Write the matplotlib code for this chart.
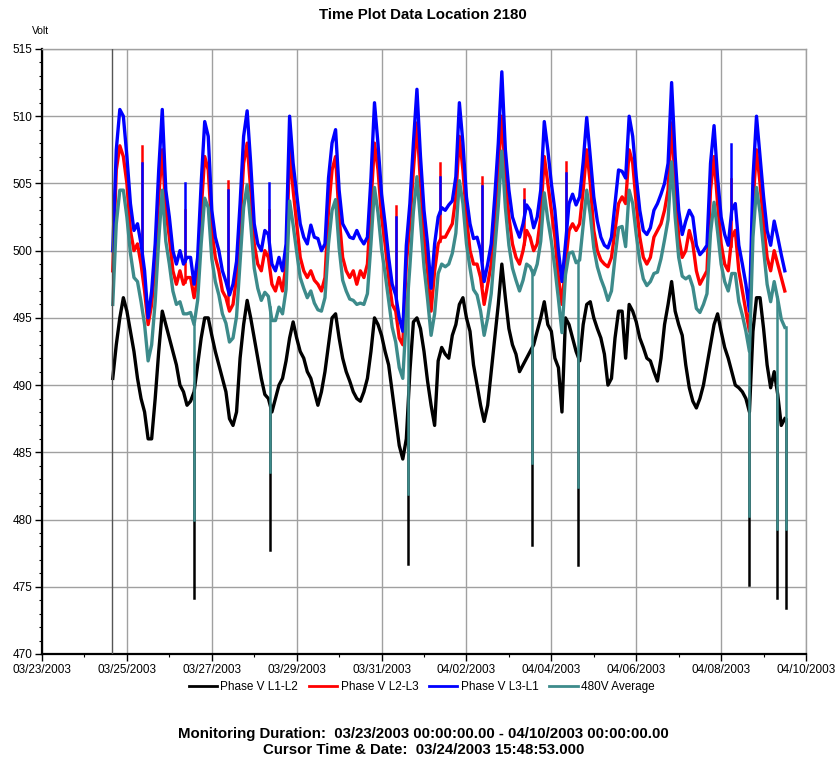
import numpy as np
import matplotlib
matplotlib.use("Agg")
import matplotlib.pyplot as plt
import matplotlib.dates as mdates
from datetime import datetime

plt.rcParams['font.family'] = ['Liberation Sans', 'DejaVu Sans']

# monitoring window and sampling (2 hour steps, hours counted from 03/23 00:00)
mon_start = datetime(2003, 3, 23)
mon_end = datetime(2003, 4, 10)
first_hour = 40
last_hour = 420
step_h = 2
cursor_time = datetime(2003, 3, 24, 15, 48, 53)

# Phase V L3-L1 (blue), one row per day
v_l3_l1 = [
    500.0, 507.5, 510.5, 510.0,
    507.0, 503.5, 501.5, 502.0, 500.5, 498.5, 495.0, 497.0, 500.5, 506.0, 510.5, 504.5,
    502.5, 500.0, 499.0, 500.0, 499.0, 499.5, 499.5, 497.5, 499.5, 505.0, 509.6, 508.5,
    503.0, 501.0, 500.0, 498.5, 497.7, 496.7, 497.5, 499.2, 503.5, 508.5, 510.4, 506.5,
    502.0, 500.5, 500.0, 501.5, 501.2, 499.0, 498.5, 499.5, 498.5, 500.5, 510.0, 506.5,
    504.2, 502.0, 501.0, 500.5, 501.9, 501.0, 500.9, 500.0, 500.5, 505.4, 508.0, 509.0,
    504.5, 502.0, 501.5, 501.0, 500.9, 501.5, 500.9, 500.5, 501.0, 505.4, 511.0, 507.9,
    504.2, 502.0, 499.5, 497.5, 496.7, 495.0, 494.0, 500.4, 503.5, 508.0, 512.0, 507.0,
    503.0, 500.5, 497.2, 500.5, 502.5, 503.2, 503.0, 503.4, 503.7, 505.5, 511.0, 508.0,
    504.0, 502.0, 500.9, 501.0, 500.0, 497.7, 499.0, 500.5, 504.0, 508.0, 513.3, 507.5,
    504.5, 502.5, 501.7, 501.0, 502.0, 503.4, 503.0, 501.7, 502.5, 504.5, 509.6, 507.5,
    505.0, 503.0, 500.0, 497.7, 500.5, 503.5, 504.2, 503.4, 504.0, 506.6, 509.9, 507.0,
    504.0, 502.2, 501.0, 500.4, 500.2, 501.0, 503.5, 506.0, 505.9, 505.4, 510.0, 508.5,
    505.5, 503.0, 501.5, 501.2, 501.7, 503.0, 503.5, 504.2, 505.0, 506.5, 512.5, 507.0,
    503.0, 501.2, 502.2, 503.0, 502.5, 500.4, 499.7, 500.0, 500.4, 506.5, 509.3, 505.4,
    502.5, 501.2, 500.4, 503.0, 503.5, 500.4, 499.0, 497.5, 495.5, 505.4, 510.0, 507.0,
    504.0, 501.5, 500.4, 502.2, 501.0, 499.7, 498.5,
]

# Phase V L2-L3 (red)
v_l2_l3 = [
    498.5, 506.0, 507.8, 507.0,
    505.0, 501.5, 500.0, 500.5, 499.0, 497.0, 494.5, 496.0, 499.0, 504.0, 507.5, 503.0,
    501.0, 498.5, 497.5, 498.5, 497.5, 498.0, 498.0, 496.5, 498.0, 503.0, 507.0, 506.0,
    501.5, 499.5, 498.5, 497.0, 496.5, 495.5, 496.0, 498.0, 502.0, 506.5, 508.0, 504.5,
    500.5, 499.0, 498.5, 500.0, 499.5, 497.5, 497.0, 498.0, 497.0, 499.0, 507.5, 504.5,
    502.0, 499.5, 498.5, 498.0, 498.5, 497.8, 497.5, 497.0, 498.0, 503.0, 506.0, 507.0,
    502.5, 499.5, 498.5, 498.0, 498.5, 497.5, 498.5, 498.0, 499.0, 503.5, 508.0, 506.0,
    502.5, 500.5, 498.0, 496.0, 495.5, 493.5, 493.0, 499.0, 502.0, 506.0, 509.5, 505.0,
    501.0, 498.5, 495.5, 498.5, 500.5, 501.0, 501.0, 501.5, 502.0, 504.0, 508.5, 506.0,
    502.5, 500.0, 499.0, 499.0, 498.0, 496.0, 497.5, 499.0, 502.5, 506.0, 510.0, 505.5,
    502.5, 500.5, 499.5, 499.0, 500.0, 501.5, 501.0, 500.0, 500.5, 502.5, 507.0, 505.0,
    503.0, 501.0, 498.0, 496.0, 499.0, 501.5, 502.0, 501.5, 502.0, 504.5, 507.5, 505.0,
    501.5, 500.0, 499.3, 499.0, 498.8, 499.5, 501.5, 503.5, 504.0, 503.5, 507.5, 506.5,
    503.5, 501.0, 499.5, 499.0, 499.5, 501.0, 501.5, 502.0, 503.0, 504.5, 509.5, 505.0,
    501.0, 499.5, 500.0, 501.5, 500.5, 498.5, 497.5, 498.0, 498.5, 504.5, 507.0, 503.5,
    500.5, 499.0, 498.5, 501.0, 501.5, 498.5, 497.0, 495.5, 494.0, 503.5, 507.5, 505.0,
    502.0, 499.5, 498.5, 500.0, 499.0, 498.0, 497.0,
]

# Phase V L1-L2 (black)
v_l1_l2 = [
    490.5, 493.0, 495.0, 496.5,
    495.5, 494.0, 492.5, 490.5, 489.0, 488.0, 486.0, 486.0, 489.0, 492.5, 495.5, 494.5,
    493.5, 492.5, 491.5, 490.0, 489.5, 488.5, 488.8, 489.5, 491.5, 493.5, 495.0, 495.0,
    493.7, 492.5, 491.5, 490.5, 489.5, 487.5, 487.0, 488.0, 492.0, 494.5, 496.3, 495.0,
    493.5, 492.0, 490.5, 489.3, 489.0, 488.0, 489.0, 490.0, 490.5, 491.8, 493.5, 494.7,
    493.5, 492.5, 492.0, 491.0, 490.5, 489.5, 488.5, 489.5, 491.0, 493.0, 495.0, 495.3,
    493.5, 492.0, 491.0, 490.3, 489.5, 489.0, 488.8, 489.5, 490.5, 492.5, 495.0, 494.5,
    493.7, 492.5, 491.5, 489.5, 487.5, 485.5, 484.5, 486.0, 491.0, 494.7, 495.0, 494.2,
    492.5, 490.3, 488.5, 487.0, 491.8, 492.8, 492.3, 492.0, 493.7, 494.5, 496.0, 496.5,
    495.0, 494.0, 491.5, 490.0, 488.5, 487.3, 488.5, 491.0, 493.5, 496.0, 499.0, 496.5,
    494.2, 493.0, 492.3, 491.0, 491.5, 492.0, 492.5, 493.0, 494.0, 495.0, 496.2, 494.5,
    494.0, 492.0, 491.3, 488.0, 495.0, 494.5, 493.5, 492.5, 491.8, 494.5, 496.0, 496.2,
    495.0, 494.2, 493.5, 492.3, 490.0, 490.5, 493.5, 495.5, 495.5, 492.0, 496.0, 495.5,
    494.7, 493.5, 492.8, 492.0, 491.8, 491.0, 490.3, 492.0, 494.5, 496.0, 497.7, 495.5,
    494.5, 493.7, 491.5, 489.8, 488.8, 488.3, 489.0, 490.0, 491.5, 493.0, 494.5, 495.3,
    494.0, 492.8, 492.0, 491.0, 490.0, 489.8, 489.5, 489.0, 488.0, 494.0, 496.5, 496.5,
    494.2, 491.5, 489.8, 491.0, 489.3, 487.0, 487.5,
]

# 480V Average (teal)
v_avg = [
    496.0, 502.0, 504.5, 504.5,
    502.5, 499.8, 498.0, 497.7, 496.2, 494.5, 491.8, 493.0, 496.2, 500.8, 504.5, 500.7,
    499.0, 497.0, 496.0, 496.2, 495.3, 495.3, 495.4, 494.5, 496.3, 500.5, 503.9, 503.2,
    499.4, 497.7, 496.7, 495.3, 494.6, 493.2, 493.5, 495.1, 499.2, 503.2, 504.9, 502.0,
    498.7, 497.2, 496.3, 496.9, 496.6, 494.8, 494.8, 495.8, 495.3, 497.1, 503.7, 501.9,
    499.9, 498.0, 497.2, 496.5, 497.0, 496.1, 495.6, 495.5, 496.5, 500.5, 503.0, 503.8,
    500.2, 497.8, 497.0, 496.4, 496.3, 496.0, 496.1, 496.0, 496.8, 500.5, 504.7, 502.8,
    500.1, 498.3, 496.3, 494.3, 493.2, 491.3, 490.5, 495.1, 498.8, 502.9, 505.5, 502.1,
    498.8, 496.4, 493.7, 495.3, 498.3, 499.0, 498.8, 499.0, 499.8, 501.3, 505.2, 503.5,
    500.5, 498.7, 497.1, 496.7, 495.5, 493.7, 495.0, 496.8, 500.0, 503.3, 507.4, 503.2,
    500.4, 498.7, 497.8, 497.0, 497.8, 499.0, 498.8, 498.2, 499.0, 500.7, 504.3, 502.3,
    500.7, 498.7, 496.4, 493.9, 498.2, 499.8, 499.9, 499.1, 499.3, 501.9, 504.5, 502.7,
    500.2, 498.8, 497.9, 497.2, 496.3, 497.0, 499.5, 501.7, 501.8, 500.3, 504.5, 503.5,
    501.2, 499.2, 497.9, 497.4, 497.7, 498.3, 498.4, 499.4, 500.8, 502.3, 506.6, 502.5,
    499.5, 498.1, 497.9, 498.1, 497.3, 495.7, 495.4, 496.0, 496.8, 501.3, 503.6, 501.4,
    499.0, 497.7, 497.0, 498.3, 498.3, 496.2, 495.2, 494.0, 492.5, 501.0, 504.7, 502.8,
    500.1, 497.5, 496.2, 497.7, 496.4, 494.9, 494.3,
]

# short sags (hours from 03/23 00:00): lowest average and lowest L1-L2
sag_hours = [86.0, 128.9, 207.1, 276.9, 302.9, 399.8, 415.8, 420.5]
sag_avg_low = [480.0, 483.5, 481.9, 484.2, 482.4, 480.3, 479.3, 479.3]
sag_l1_l2_low = [474.2, 477.7, 476.7, 478.1, 476.6, 475.1, 474.2, 473.4]

# short swells on L2-L3 / L3-L1
swell_hours = [56.7, 80.8, 104.9, 128.4, 200.3, 224.8, 248.6, 272.7, 296.3, 389.5]
swell_l2_l3_top = [507.8, 503.0, 505.2, 503.0, 503.3, 506.5, 505.5, 504.6, 506.6, 505.3]
swell_l3_l1_top = [506.5, 505.0, 504.5, 505.0, 502.5, 505.5, 504.8, 503.8, 505.8, 507.9]

series_names = ['Phase V L1-L2', 'Phase V L2-L3', 'Phase V L3-L1', '480V Average']
series_colors = ['black', '#ff0000', '#0000ff', '#3d8b8b']

# x values as matplotlib dates
t0 = mdates.date2num(mon_start)
hours = np.arange(first_hour, last_hour + 1, step_h)
x = t0 + hours / 24.0
sag_x = t0 + np.array(sag_hours) / 24.0
swell_x = t0 + np.array(swell_hours) / 24.0

fig = plt.figure(figsize=(8.35, 7.64), dpi=100)
ax = fig.add_axes([0.0503, 0.1440, 0.9150, 0.7919])

lw = 2.4
all_series = [v_l1_l2, v_l2_l3, v_l3_l1, v_avg]
for i, (vals, name, col) in enumerate(zip(all_series, series_names, series_colors)):
    ax.plot(x, vals, color=col, lw=lw, label=name, zorder=3 + i)

# sags: black first, teal on top
for sx, h, lo_k, lo_a in zip(sag_x, sag_hours, sag_l1_l2_low, sag_avg_low):
    ax.plot([sx, sx], [np.interp(h, hours, v_l1_l2), lo_k], color='black', lw=1.8, zorder=3)
    ax.plot([sx, sx], [np.interp(h, hours, v_avg), lo_a], color=series_colors[3], lw=1.8, zorder=6)

# swells: red tip under blue
for sx, h, top_r, top_b in zip(swell_x, swell_hours, swell_l2_l3_top, swell_l3_l1_top):
    ax.plot([sx, sx], [np.interp(h, hours, v_l2_l3), top_r], color='#ff0000', lw=1.8, zorder=4)
    ax.plot([sx, sx], [np.interp(h, hours, v_l3_l1), top_b], color='#0000ff', lw=1.8, zorder=5)

# cursor line
ax.axvline(mdates.date2num(cursor_time), color='#555555', lw=1.0, zorder=7)

ax.set_xlim(t0, mdates.date2num(mon_end))
ax.set_ylim(470, 515)
ax.set_yticks(np.arange(470, 516, 5))
ax.yaxis.set_minor_locator(plt.MultipleLocator(1))
ax.xaxis.set_major_locator(mdates.DayLocator(interval=2))
ax.xaxis.set_minor_locator(mdates.DayLocator())
ax.xaxis.set_major_formatter(mdates.DateFormatter('%m/%d/%Y'))

ax.grid(True, which='major', color='#a0a0a0', lw=1.0, zorder=0)
ax.tick_params(which='major', length=5, width=1, labelsize=8.5, pad=2)
ax.tick_params(which='minor', length=2.5, width=0.8)
for side in ['left', 'bottom']:
    ax.spines[side].set_linewidth(1.6)
for side in ['top', 'right']:
    ax.spines[side].set_color('#a0a0a0')
    ax.spines[side].set_linewidth(1.0)

fig.text(0.507, 0.980, 'Time Plot Data Location 2180', ha='center', va='center',
         fontsize=10.8, fontweight='bold')
fig.text(0.038, 0.960, 'Volt', ha='left', va='center', fontsize=7.5)

leg = fig.legend(loc='center', bbox_to_anchor=(0.505, 0.1008), ncol=4, frameon=False,
                 fontsize=8.5, handlelength=2.4, handletextpad=0.3, columnspacing=0.9,
                 borderaxespad=0)
for line in leg.get_lines():
    line.set_linewidth(2.0)

fig.text(0.507, 1 - 734 / 764, 'Monitoring Duration:  03/23/2003 00:00:00.00 - 04/10/2003 00:00:00.00',
         ha='center', va='center', fontsize=10.8, fontweight='bold')
fig.text(0.507, 1 - 750 / 764, 'Cursor Time & Date:  03/24/2003 15:48:53.000',
         ha='center', va='center', fontsize=10.8, fontweight='bold')

fig.savefig('out.png', dpi=100)
